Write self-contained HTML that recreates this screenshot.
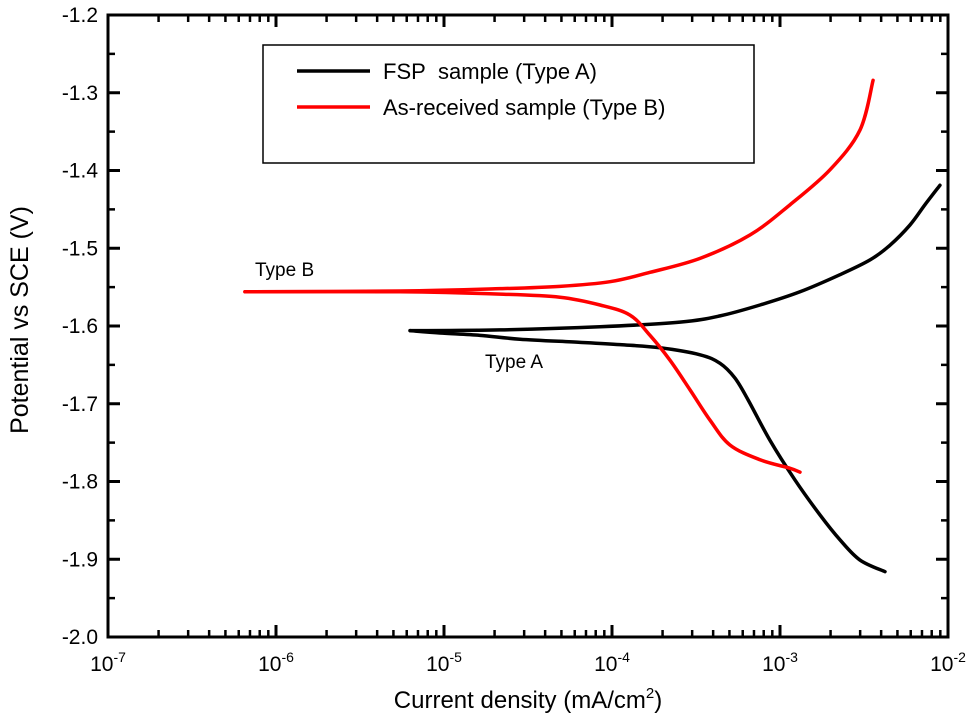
<!DOCTYPE html>
<html><head><meta charset="utf-8"><style>
html,body{margin:0;padding:0;background:#fff;}
svg{display:block;font-family:"Liberation Sans",Arial,sans-serif;}
</style></head><body>
<svg id="chart" width="972" height="724"></svg>
<script>
const xDecades=[-7,-6,-5,-4,-3,-2];
const yTicks=[-1.2,-1.3,-1.4,-1.5,-1.6,-1.7,-1.8,-1.9,-2.0];
const aCathLogI=[-2.375,-2.524,-2.643,-2.762,-2.911,-3.06,-3.19,-3.268,-3.357,-3.476,-3.714,-3.952,-4.19,-4.548,-4.786,-5.024,-5.202];
const aCathE=[-1.916,-1.901,-1.875,-1.843,-1.798,-1.747,-1.695,-1.667,-1.648,-1.637,-1.628,-1.624,-1.621,-1.617,-1.612,-1.609,-1.606];
const aAnodLogI=[-5.202,-4.667,-4.071,-3.595,-3.357,-3.119,-2.881,-2.643,-2.464,-2.345,-2.226,-2.137,-2.048];
const aAnodE=[-1.606,-1.605,-1.601,-1.595,-1.587,-1.573,-1.556,-1.534,-1.515,-1.496,-1.470,-1.444,-1.419];
const bCathLogI=[-6.185,-5.262,-4.667,-4.31,-4.071,-3.893,-3.774,-3.655,-3.536,-3.417,-3.298,-3.119,-2.94,-2.881];
const bCathE=[-1.556,-1.556,-1.559,-1.563,-1.573,-1.586,-1.612,-1.644,-1.682,-1.721,-1.753,-1.772,-1.783,-1.788];
const bAnodLogI=[-6.185,-5.262,-4.667,-4.31,-4.012,-3.774,-3.476,-3.179,-2.94,-2.702,-2.524,-2.446];
const bAnodE=[-1.556,-1.555,-1.552,-1.549,-1.543,-1.531,-1.513,-1.483,-1.444,-1.399,-1.348,-1.284];

const L=108,R=948,T=15,B=637;
const xs=v=>L+(v+7)*(R-L)/5;
const ys=v=>T+(-1.2-v)*(B-T)/0.8;
const NS="http://www.w3.org/2000/svg";
const svg=document.getElementById('chart');
function mk(tag,attrs,parent){const e=document.createElementNS(NS,tag);for(const k in attrs)e.setAttribute(k,attrs[k]);(parent||svg).appendChild(e);return e;}

const frame=mk('rect',{x:L,y:T,width:R-L,height:B-T,fill:'none',stroke:'#000','stroke-width':3});



xDecades.forEach((d,i)=>{
  const x=xs(d);
  [B,T].forEach(yy=>{const dir=yy===B?-1:1;mk('line',{x1:x,x2:x,y1:yy,y2:yy+dir*12,stroke:'#000','stroke-width':3});});
  if(i<xDecades.length-1){for(let m=2;m<=9;m++){const xm=xs(d+Math.log10(m));[B,T].forEach(yy=>{const dir=yy===B?-1:1;mk('line',{x1:xm,x2:xm,y1:yy,y2:yy+dir*7,stroke:'#000','stroke-width':2.5});});}}
  const t=mk('text',{x:x,y:B+34,'text-anchor':'middle','font-size':21});
  
  
  t.appendChild(document.createTextNode('10'));
  const s=mk('tspan',{dy:-9,'font-size':14},t);s.textContent=String(d);
});
yTicks.forEach((v,i)=>{
  const y=ys(v);
  [L,R].forEach(xx=>{const dir=xx===L?1:-1;mk('line',{x1:xx,x2:xx+dir*12,y1:y,y2:y,stroke:'#000','stroke-width':3});});
  if(i<yTicks.length-1){const ym=ys(v-0.05);[L,R].forEach(xx=>{const dir=xx===L?1:-1;mk('line',{x1:xx,x2:xx+dir*7,y1:ym,y2:ym,stroke:'#000','stroke-width':2.5});});}
  const t=mk('text',{x:L-10,y:y+7,'text-anchor':'end','font-size':21});
  
  
  t.textContent=v.toFixed(1);
});
function line(lx,ly,color,name){
  const P=lx.map((v,i)=>[xs(v),ys(ly[i])]);
  let d='M'+P[0][0]+','+P[0][1];
  for(let i=0;i<P.length-1;i++){
    const p0=P[Math.max(0,i-1)],p1=P[i],p2=P[i+1],p3=P[Math.min(P.length-1,i+2)];
    const c1=[p1[0]+(p2[0]-p0[0])/6,p1[1]+(p2[1]-p0[1])/6];
    const c2=[p2[0]-(p3[0]-p1[0])/6,p2[1]-(p3[1]-p1[1])/6];
    d+=' C'+c1[0]+','+c1[1]+' '+c2[0]+','+c2[1]+' '+p2[0]+','+p2[1];
  }
  const p=mk('path',{d:d,fill:'none',stroke:color,'stroke-width':3.5,'stroke-linejoin':'round','stroke-linecap':'round'});
  
  
}
line(aCathLogI,aCathE,'#000','type-a-cathodic-line');
line(aAnodLogI,aAnodE,'#000','type-a-anodic-line');
line(bCathLogI,bCathE,'#f00','type-b-cathodic-line');
line(bAnodLogI,bAnodE,'#f00','type-b-anodic-line');

let a=mk('text',{x:255,y:276,'font-size':19});a.textContent='Type B';

a=mk('text',{x:485,y:368,'font-size':19});a.textContent='Type A';


const lg=mk('g',{});

mk('rect',{x:263,y:45,width:491,height:118,fill:'#fff',stroke:'#000','stroke-width':1.5},lg);
mk('line',{x1:297,x2:370,y1:71,y2:71,stroke:'#000','stroke-width':3.5},lg);
mk('line',{x1:297,x2:370,y1:107,y2:107,stroke:'#f00','stroke-width':3.5},lg);
let t=mk('text',{x:383,y:79,'font-size':22},lg);t.textContent='FSP\u00a0 sample (Type A)';

t=mk('text',{x:383,y:115,'font-size':22},lg);t.textContent='As-received sample (Type B)';


t=mk('text',{x:528,y:708,'text-anchor':'middle','font-size':24});

t.appendChild(document.createTextNode('Current density (mA/cm'));
let s=mk('tspan',{dy:-10,'font-size':15},t);s.textContent='2';
s=mk('tspan',{dy:10},t);s.textContent=')';
t=mk('text',{x:0,y:0,'text-anchor':'middle','font-size':25,transform:'translate(28,320) rotate(-90)'});

t.textContent='Potential vs SCE (V)';
</script>
</body></html>
